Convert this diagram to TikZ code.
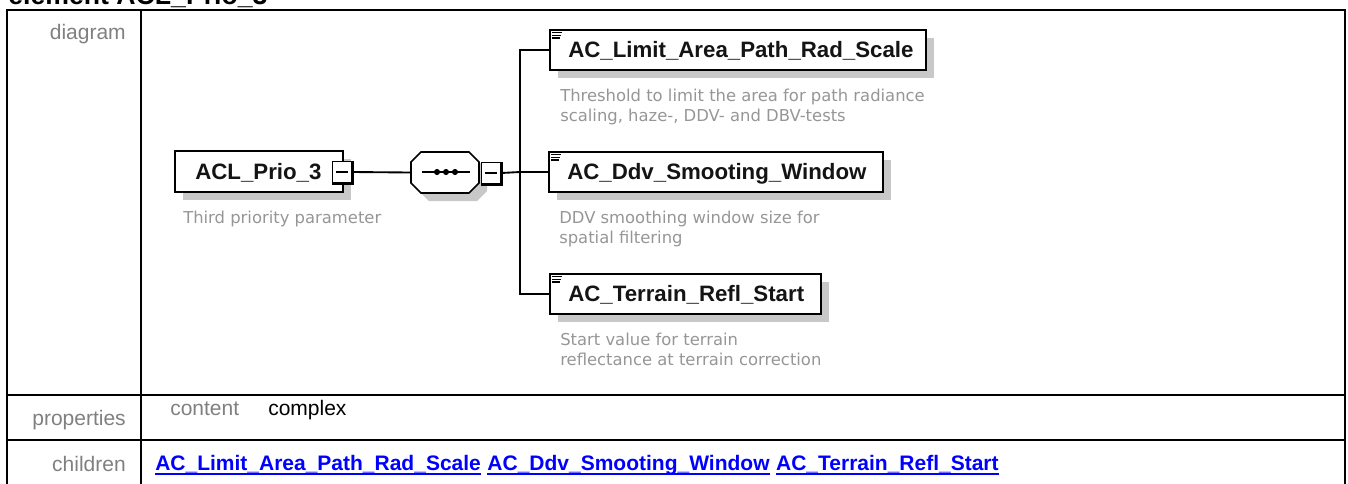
\documentclass[tikz,border=0pt]{standalone}
\usepackage{fontspec}
\setmainfont{Liberation Sans}
\newfontfamily\descfont{DejaVu Sans}
\usetikzlibrary{shadows,calc}
\definecolor{lbl}{RGB}{128,128,128}
\definecolor{desc}{RGB}{150,150,150}
\definecolor{shd}{RGB}{200,200,200}
\definecolor{lnk}{RGB}{0,0,255}
\definecolor{nmc}{RGB}{20,20,20}
\newcommand\docicon[1]{%
  \draw[line width=1pt] ($(#1.north west)+(3,3.2)$) -- ++(10,0);
  \draw[line width=1pt] ($(#1.north west)+(3,6)$) -- ++(9,0);
  \draw[line width=1pt] ($(#1.north west)+(3,8.8)$) -- ++(8,0);}
\newcommand\minusdeco[1]{%
  \draw[line width=1.5pt] ($(#1.north east)+(0.8,0)$) -- ($(#1.south east)+(0.8,0.8)$) -- ($(#1.south west)+(0,0.8)$);
  \draw[line width=0.9pt] ($(#1.west)+(4,0)$) -- ($(#1.east)+(-4,0)$);}
% octagon centred at (#1,#2): half width 34, half height 20.5, chamfer 10
\newcommand\octpath[2]{(#1-24,#2-20.5) -- (#1+24,#2-20.5) -- (#1+34,#2-10.5) -- (#1+34,#2+10.5) -- (#1+24,#2+20.5) -- (#1-24,#2+20.5) -- (#1-34,#2+10.5) -- (#1-34,#2-10.5) -- cycle}
\begin{document}
\begin{tikzpicture}[x=0.75pt,y=-0.75pt,
  tbl/.style={line width=1.5pt},
  lbltext/.style={inner sep=0, font=\fontsize{15.75pt}{18pt}\selectfont, text=lbl},
  valtext/.style={inner sep=0, font=\fontsize{15.75pt}{18pt}\selectfont, text=black},
  linktext/.style={inner sep=0, font=\bfseries\fontsize{15.75pt}{18pt}\selectfont, text=lnk},
  elbox/.style={draw, line width=1.2pt, fill=white, inner sep=0,
    drop shadow={shadow xshift=6pt, shadow yshift=-6pt, fill=shd, opacity=1}},
  nm/.style={inner sep=0, font=\bfseries\fontsize{16.7pt}{20pt}\selectfont, text=nmc},
  desc/.style={inner sep=0, font=\descfont\fontsize{12.3pt}{15pt}\selectfont, text=desc},
  mbox/.style={draw, line width=0.8pt, fill=white, inner sep=0, minimum width=14.5pt, minimum height=16pt},
  conn/.style={line width=1.4pt},
]
\useasboundingbox (0,0) rectangle (1348,483);
% title (cut off at top)
\node[anchor=base west, inner sep=0, font=\bfseries\fontsize{20pt}{24pt}\selectfont] (title) at (8,4) {element ACL\_Prio\_3};
% table frame
\draw[tbl] (7,490) -- (7,10) -- (1345,10) -- (1345,490);
\draw[tbl] (7,395) -- (1345,395);
\draw[tbl] (7,440) -- (1345,440);
\draw[tbl] (141,10) -- (141,490);
% row labels
\node[lbltext, anchor=base east] (ldiag) at (126,39) {diagram};
\node[lbltext, anchor=base east] (lprop) at (126,425) {properties};
\node[lbltext, anchor=base east] (lchild) at (126,471) {children};
\node[lbltext, anchor=base west] (lcont) at (170,415) {content};
\node[valtext, anchor=base west] (vcomp) at (268,415) {complex};
% links
\node[linktext, anchor=base west] (k1) at (155,470) {AC\_Limit\_Area\_Path\_Rad\_Scale};
\node[linktext, anchor=base west] (k2) at ($(k1.base east)+(6,0)$) {AC\_Ddv\_Smooting\_Window};
\node[linktext, anchor=base west] (k3) at ($(k2.base east)+(6,0)$) {AC\_Terrain\_Refl\_Start};
\foreach \k in {k1,k2,k3}{
  \draw[lnk, line width=1.5pt] ($(\k.base west)+(0,4)$) -- ($(\k.base east)+(0,4)$);}
% root element
\node[elbox, minimum width=126pt, minimum height=30.75pt] (root) at (259,171.5) {};
\node[nm, anchor=base west] (rootname) at (195,179) {ACL\_Prio\_3};
\node[mbox] (m1) at (342,172) {};
\minusdeco{m1}
\node[desc, anchor=base west] (d0) at (183,223) {Third priority parameter};
% sequence compositor
\fill[shd] \octpath{453}{180.5};
\filldraw[fill=white, line width=1.2pt] \octpath{445}{172.5};
\node[inner sep=0, minimum width=51pt, minimum height=30.75pt] (seq) at (445,172.5) {};
\draw[conn] (422,172) -- (470,172);
\foreach \dx in {437,446,455}{\fill (\dx,172) circle (2.3pt);}
\node[mbox] (m2) at (491,173) {};
\minusdeco{m2}
% children
\node[elbox, minimum width=282pt, minimum height=30pt] (c1) at (738,50) {};
\node[elbox, minimum width=250.5pt, minimum height=30pt] (c2) at (716,172) {};
\node[elbox, minimum width=203.25pt, minimum height=30pt] (c3) at (685.5,294) {};
\docicon{c1}
\docicon{c2}
\docicon{c3}
\node[nm, anchor=base west] (n1) at (568,57.5) {AC\_Limit\_Area\_Path\_Rad\_Scale};
\node[nm, anchor=base west] (n2) at (567,179.5) {AC\_Ddv\_Smooting\_Window};
\node[nm, anchor=base west] (n3) at (568,301.5) {AC\_Terrain\_Refl\_Start};
\node[desc, anchor=base west] (d1a) at (560,101) {Threshold to limit the area for path radiance};
\node[desc, anchor=base west] (d1b) at (560,121) {scaling, haze-, DDV- and DBV-tests};
\node[desc, anchor=base west] (d2a) at (559,223) {DDV smoothing window size for};
\node[desc, anchor=base west] (d2b) at (559,243) {spatial filtering};
\node[desc, anchor=base west] (d3a) at (560,345) {Start value for terrain};
\node[desc, anchor=base west] (d3b) at (560,365) {reflectance at terrain correction};
% connectors
\coordinate (j) at (520,172);
\draw[conn] (m1.east) -- (seq.west);
\draw[conn] (m2.east) -- (j);
\draw[conn] (c1.west) -| (j) |- (c3.west);
\draw[conn] (j) -- (c2.west);
\end{tikzpicture}
\end{document}
